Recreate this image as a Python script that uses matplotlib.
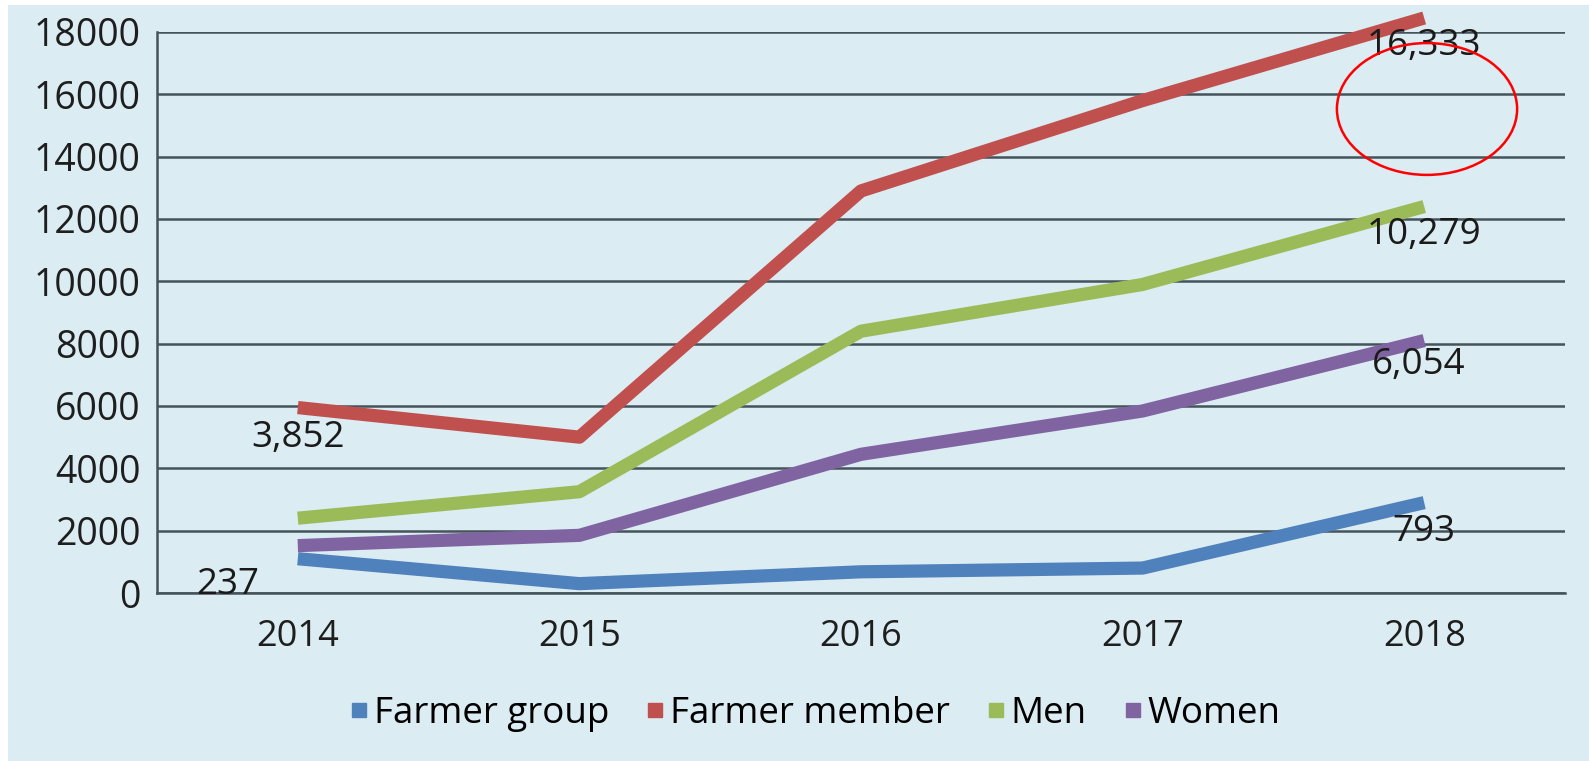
import matplotlib.pyplot as plt
from matplotlib.lines import Line2D
from matplotlib.patches import Ellipse, Rectangle

years = ["2014", "2015", "2016", "2017", "2018"]
farmer_group = [1100, 300, 680, 800, 2900]
farmer_member = [5950, 5000, 12900, 15800, 18450]
men = [2400, 3250, 8400, 9900, 12400]
women = [1520, 1850, 4450, 5840, 8100]

series_names = ["Farmer group", "Farmer member", "Men", "Women"]
colors = ["#4f81bd", "#c0504d", "#9bbb59", "#8064a2"]

# data labels as printed on the chart
label_texts = ["3,852", "237", "16,333", "10,279", "6,054", "793"]
label_pos = [(0.0, 4970), (-0.25, 260), (4.0, 17550), (4.0, 11490),
             (3.98, 7310), (4.0, 1960)]

plt.rcParams["font.family"] = ["Open Sans", "DejaVu Sans"]

fig = plt.figure(figsize=(15.89, 7.61), dpi=100)
fig.patches.append(Rectangle((8 / 1589, 0), 1, 1 - 5 / 761,
                             transform=fig.transFigure,
                             facecolor="#dbecf2", edgecolor="none", zorder=-10))

ax = fig.add_axes([157 / 1589, 1 - 593 / 761, (1565 - 157) / 1589, (593 - 32) / 761])
ax.set_facecolor("none")

x = range(len(years))
for vals, c in zip([farmer_group, farmer_member, men, women], colors):
    ax.plot(x, vals, color=c, lw=9.5, solid_capstyle="butt", clip_on=False, zorder=3)

ax.set_xlim(-0.5, len(years) - 0.5)
ax.set_ylim(0, 18000)
ax.set_yticks(range(0, 18001, 2000))
ax.set_xticks(list(x))
ax.set_xticklabels(years)
ax.yaxis.grid(True, color="#44545a", lw=1.8)
ax.set_axisbelow(True)
for s in ["top", "right"]:
    ax.spines[s].set_visible(False)
ax.spines["left"].set_color("#44545a")
ax.spines["left"].set_linewidth(1.8)
ax.spines["bottom"].set_color("#44545a")
ax.spines["bottom"].set_linewidth(1.8)
ax.tick_params(axis="y", length=0, pad=12, labelsize=27, labelcolor="#1e1e1e")
ax.tick_params(axis="x", length=0, pad=19, labelsize=26, labelcolor="#1e1e1e")

for t, (px, py) in zip(label_texts, label_pos):
    ax.text(px, py, t, ha="center", va="center", fontsize=26.5, color="#1a1a1a", zorder=4)

ax.add_patch(Ellipse((4.01, 15530), 0.64, 4230, facecolor="none",
                     edgecolor="#ff0000", lw=1.8, clip_on=False, zorder=5))

handles = [Line2D([], [], marker="s", ls="none", color=c, markersize=10) for c in colors]
fig.legend(handles, series_names, loc="center", bbox_to_anchor=(0.512, 0.062),
           ncol=4, frameon=False, fontsize=26.5, handletextpad=0.05,
           columnspacing=0.9, handlelength=0.7)

plt.savefig("out.png", dpi=100)
plt.close()
